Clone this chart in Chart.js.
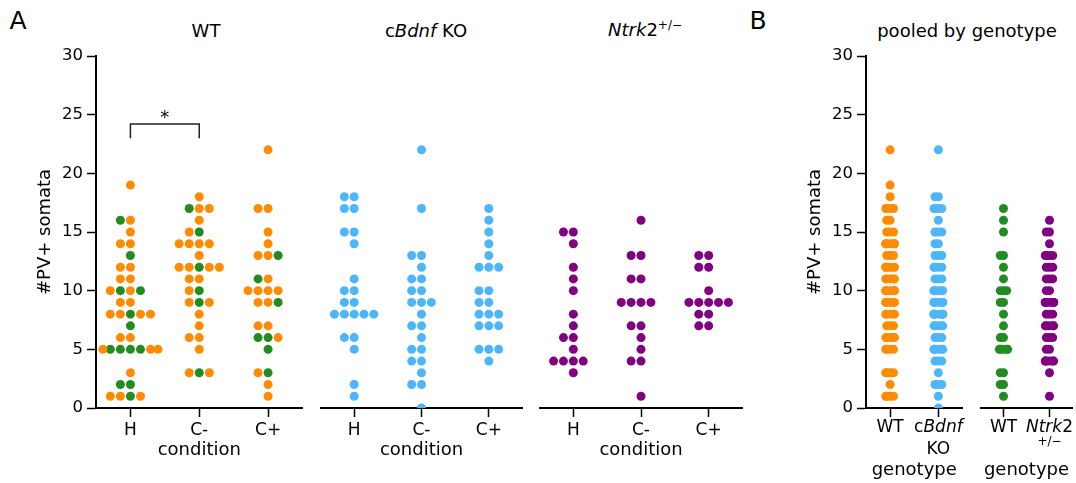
<!DOCTYPE html>
<html>
<head>
<meta charset="utf-8">
<script src="https://cdn.jsdelivr.net/npm/chart.js@4.4.0/dist/chart.umd.min.js"></script>
<style>
  html, body { margin: 0; padding: 0; background: #fff; overflow: hidden; }
  #fig { position: relative; width: 1076px; height: 483px; font-family: "DejaVu Sans", sans-serif; color: #000; }
  .txt { position: absolute; white-space: nowrap; transform: translate(-50%, -50%); line-height: 1; }
  .txt sup { font-size: 12px; }
</style>
</head>
<body>
<div id="fig">
  <div class="txt" style="left:18px;top:20px;font-size:25px">A</div>
  <div class="txt" style="left:206px;top:31px;font-size:18px">WT</div>
  <div class="txt" style="left:426px;top:31px;font-size:18px">c<i>Bdnf</i> KO</div>
  <div class="txt" style="left:645px;top:29px;font-size:18px"><i>Ntrk</i>2<sup>+/&minus;</sup></div>
  <div class="txt" style="left:758px;top:20px;font-size:25px">B</div>
  <div class="txt" style="left:967px;top:31px;font-size:18px">pooled by genotype</div>
</div>
<script>
const conditions = ['H', 'C-', 'C+'];
const yTicks = [0, 5, 10, 15, 20, 25, 30];

// WT animals, tagged by the line they are littermates of: B = cBdnf, N = Ntrk2
const wtH = [19, 16, 16, 15, 14, 14, 13, 12, 12, 11, 11, 10, 10, 10, 10, 9, 9, 8, 8, 8, 8, 8, 7, 6, 6,
  5, 5, 5, 5, 5, 5, 5, 3, 2, 2, 1, 1, 1, 1];
const wtHLine = ['B', 'B', 'N', 'B', 'B', 'B', 'N', 'B', 'B', 'B', 'B', 'B', 'N', 'N', 'B', 'B', 'B', 'N', 'B', 'B', 'B', 'B', 'N', 'B', 'B',
  'N', 'N', 'N', 'N', 'B', 'B', 'B', 'B', 'N', 'N', 'N', 'B', 'B', 'B'];
const wtCm = [18, 17, 17, 17, 16, 15, 15, 14, 14, 14, 14, 13, 12, 12, 12, 12, 12, 11, 11, 10, 10, 9, 9, 9,
  8, 7, 6, 6, 5, 3, 3, 3];
const wtCmLine = ['B', 'B', 'N', 'B', 'B', 'N', 'B', 'B', 'B', 'B', 'B', 'B', 'N', 'B', 'B', 'B', 'B', 'B', 'B', 'N', 'B', 'N', 'B', 'B',
  'B', 'B', 'B', 'B', 'B', 'N', 'B', 'B'];
const wtCp = [22, 17, 17, 15, 14, 13, 13, 13, 11, 11, 10, 10, 10, 10, 9, 9, 9, 7, 7, 6, 6, 6, 5, 3, 3, 2, 1];
const wtCpLine = ['B', 'B', 'B', 'B', 'B', 'B', 'B', 'N', 'B', 'N', 'B', 'B', 'B', 'B', 'B', 'B', 'N', 'B', 'B', 'N', 'N', 'B', 'N', 'N', 'B', 'B', 'B'];

const koH = [18, 18, 17, 17, 15, 15, 14, 11, 10, 10, 9, 9, 8, 8, 8, 8, 8, 6, 6, 5, 2, 1];
const koCm = [22, 17, 13, 13, 12, 11, 11, 10, 10, 9, 9, 9, 8, 7, 7, 6, 5, 5, 4, 4, 3, 2, 2, 0];
const koCp = [17, 16, 15, 14, 13, 12, 12, 12, 10, 10, 9, 9, 8, 8, 8, 7, 7, 7, 5, 5, 5, 4];

const ntrkH = [15, 15, 14, 12, 11, 10, 8, 7, 6, 6, 5, 4, 4, 4, 4, 3];
const ntrkCm = [16, 13, 13, 11, 11, 9, 9, 9, 9, 7, 7, 6, 5, 4, 4, 1];
const ntrkCp = [13, 13, 12, 12, 10, 9, 9, 9, 9, 9, 8, 8, 7, 7];

const sigBracket = { from: 0, to: 1, y: 24.2, drop: 1.2, label: '*' };

const ORANGE = '#ff8c00';
const GREEN = '#228b22';
const BLUE = '#4db6fb';
const PURPLE = '#800080';
const lineColor = { B: ORANGE, N: GREEN };

Chart.defaults.font.family = '"DejaVu Sans", sans-serif';
Chart.defaults.color = '#000';

const fig = document.getElementById('fig');
const AREA_TOP = 56;
const AREA_BOTTOM = 408;
const CANVAS_TOP = 10;
const Y_AXIS_WIDTH = 76;

// beeswarm: equal values fan out as 0, -1, +1, -2, +2 ... steps, squeezed into +-limit
const swarm = (values, step, limit) => {
  const seen = {};
  return values.map((v) => {
    const k = seen[v] || 0;
    seen[v] = k + 1;
    const slot = k % 2 ? -(k + 1) / 2 : k / 2;
    return Math.max(-limit, Math.min(limit, slot * step));
  });
};

const pick = (values, tags, tag) => values.filter((_, i) => tags[i] === tag);

const bracketPlugin = (b) => ({
  id: 'bracket',
  afterDatasetsDraw(chart) {
    const { ctx, scales: { x, y } } = chart;
    const x0 = x.getPixelForValue(b.from);
    const x1 = x.getPixelForValue(b.to);
    const yTop = y.getPixelForValue(b.y);
    const yLow = y.getPixelForValue(b.y - b.drop);
    ctx.save();
    ctx.strokeStyle = '#222';
    ctx.lineWidth = 1.5;
    ctx.beginPath();
    ctx.moveTo(x0, yLow);
    ctx.lineTo(x0, yTop);
    ctx.lineTo(x1, yTop);
    ctx.lineTo(x1, yLow);
    ctx.stroke();
    ctx.fillStyle = '#000';
    ctx.font = '18px "DejaVu Sans"';
    ctx.textAlign = 'center';
    ctx.textBaseline = 'alphabetic';
    ctx.fillText(b.label, (x0 + x1) / 2, yTop - 1.5);
    ctx.restore();
  },
});

// tick labels made of runs with their own style: n = normal, i = italic, s = small
const richTicksPlugin = (labels) => ({
  id: 'richTicks',
  afterDraw(chart) {
    const { ctx, chartArea, scales: { x } } = chart;
    ctx.save();
    ctx.fillStyle = '#000';
    ctx.textBaseline = 'middle';
    ctx.textAlign = 'left';
    labels.forEach((lines, i) => {
      const cx = x.getPixelForValue(i);
      lines.forEach(({ dy, runs }) => {
        const fonts = runs.map(([, s]) => `${s === 'i' ? 'italic ' : ''}${s === 's' ? 12 : 17}px "DejaVu Sans"`);
        const widths = runs.map(([t], k) => { ctx.font = fonts[k]; return ctx.measureText(t).width; });
        let px = cx - widths.reduce((a, w) => a + w, 0) / 2;
        runs.forEach(([t], k) => {
          ctx.font = fonts[k];
          ctx.fillText(t, px, chartArea.bottom + dy);
          px += widths[k];
        });
      });
    });
    ctx.restore();
  },
});

const buildPanel = ({ left, width, yAxis, cats, groups, xTitle, xHeight, titlePad, step, limit, extras = [] }) => {
  const canvas = document.createElement('canvas');
  const height = AREA_BOTTOM + xHeight - CANVAS_TOP;
  canvas.width = width;
  canvas.height = height;
  canvas.style.cssText = `position:absolute;left:${left}px;top:${CANVAS_TOP}px`;
  fig.appendChild(canvas);

  const datasets = groups.map((g, i) => {
    const offs = swarm(g.values, step, limit);
    return {
      data: g.values.map((v, j) => ({ x: i + offs[j], y: v })),
      pointBackgroundColor: g.colors,
      pointRadius: 4.5,
      pointHoverRadius: 4.5,
      pointBorderWidth: 0,
    };
  });

  new Chart(canvas, {
    type: 'scatter',
    data: { datasets },
    options: {
      responsive: false,
      animation: false,
      events: [],
      layout: { padding: { top: AREA_TOP - CANVAS_TOP, right: 0, bottom: 0, left: 0 } },
      plugins: { legend: { display: false }, tooltip: { enabled: false } },
      scales: {
        x: {
          type: 'linear',
          min: -0.5,
          max: cats.length - 0.5,
          afterBuildTicks: (s) => { s.ticks = cats.map((_, i) => ({ value: i })); },
          afterFit: (s) => { s.height = xHeight; },
          ticks: { callback: (v) => cats[v] || '', font: { size: 17 }, padding: 3, maxRotation: 0, autoSkip: false },
          grid: { drawOnChartArea: false, tickLength: 9, tickWidth: 1.5, tickColor: '#000' },
          border: { color: '#000', width: 2 },
          title: { display: true, text: xTitle, font: { size: 18 }, padding: { top: 0, bottom: titlePad } },
        },
        y: {
          display: yAxis,
          min: 0,
          max: 30,
          afterBuildTicks: (s) => { s.ticks = yTicks.map((v) => ({ value: v })); },
          afterFit: (s) => { s.width = yAxis ? Y_AXIS_WIDTH : 0; },
          ticks: { font: { size: 16.5 }, padding: 4 },
          grid: { drawOnChartArea: false, tickLength: 9, tickWidth: 1.5, tickColor: '#000' },
          border: { color: '#000', width: 2 },
          title: { display: true, text: '#PV+ somata', font: { size: 18 }, padding: { top: 15, bottom: 0 } },
        },
      },
    },
    plugins: extras,
  });
};

const A_STEP = 0.146;
const A_LIMIT = 0.4;
const wtGroups = [[wtH, wtHLine], [wtCm, wtCmLine], [wtCp, wtCpLine]]
  .map(([values, tags]) => ({ values, colors: tags.map((t) => lineColor[t]) }));
const solid = (values, color) => ({ values, colors: values.map(() => color) });

buildPanel({
  left: 20, width: 287, yAxis: true, cats: conditions, groups: wtGroups,
  xTitle: 'condition', xHeight: 62, titlePad: 9, step: A_STEP, limit: A_LIMIT,
  extras: [bracketPlugin(sigBracket)],
});
buildPanel({
  left: 316, width: 211, yAxis: false, cats: conditions,
  groups: [solid(koH, BLUE), solid(koCm, BLUE), solid(koCp, BLUE)],
  xTitle: 'condition', xHeight: 62, titlePad: 9, step: A_STEP, limit: A_LIMIT,
});
buildPanel({
  left: 535, width: 212, yAxis: false, cats: conditions,
  groups: [solid(ntrkH, PURPLE), solid(ntrkCm, PURPLE), solid(ntrkCp, PURPLE)],
  xTitle: 'condition', xHeight: 62, titlePad: 9, step: A_STEP, limit: A_LIMIT,
});

// pooled over conditions
const wtAll = [...wtH, ...wtCm, ...wtCp];
const wtAllLine = [...wtHLine, ...wtCmLine, ...wtCpLine];
const B_STEP = 0.07;
const B_LIMIT = 0.09;

buildPanel({
  left: 790, width: 177, yAxis: true, cats: ['', ''],
  groups: [solid(pick(wtAll, wtAllLine, 'B'), ORANGE), solid([...koH, ...koCm, ...koCp], BLUE)],
  xTitle: 'genotype', xHeight: 75, titlePad: 2, step: B_STEP, limit: B_LIMIT,
  extras: [richTicksPlugin([
    [{ dy: 20, runs: [['WT', 'n']] }],
    [{ dy: 20, runs: [['c', 'n'], ['Bdnf', 'i']] }, { dy: 42, runs: [['KO', 'n']] }],
  ])],
});
buildPanel({
  left: 976, width: 101, yAxis: false, cats: ['', ''],
  groups: [solid(pick(wtAll, wtAllLine, 'N'), GREEN), solid([...ntrkH, ...ntrkCm, ...ntrkCp], PURPLE)],
  xTitle: 'genotype', xHeight: 75, titlePad: 2, step: B_STEP, limit: B_LIMIT,
  extras: [richTicksPlugin([
    [{ dy: 20, runs: [['WT', 'n']] }],
    [{ dy: 20, runs: [['Ntrk', 'i'], ['2', 'n']] }, { dy: 34, runs: [['+/\u2212', 's']] }],
  ])],
});
</script>
</body>
</html>
